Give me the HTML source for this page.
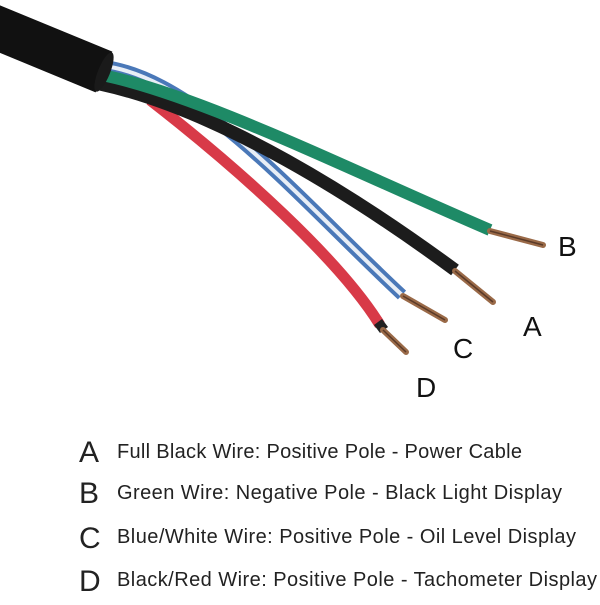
<!DOCTYPE html>
<html><head><style>
body{margin:0;background:#fff;width:600px;height:600px;overflow:hidden}
</style></head><body>
<svg width="600" height="600" viewBox="0 0 600 600" xmlns="http://www.w3.org/2000/svg" font-family="Liberation Sans, sans-serif">
<rect width="600" height="600" fill="#fff"/>
<!-- red wire -->
<path d="M150,100 C240,170 340,260 380,325" stroke="#d83a48" stroke-width="11" fill="none"/>
<path d="M378,322 L384,330" stroke="#222" stroke-width="10"/>
<!-- blue/white wire -->
<path d="M105,66 C200,80 300,200 402,295" stroke="#4a78b8" stroke-width="12" fill="none"/>
<path d="M105,66 C200,80 300,200 402,295" stroke="#e8eef6" stroke-width="4" fill="none"/>
<!-- black wire -->
<path d="M100,84 C220,110 360,200 455,270" stroke="#1c1c1c" stroke-width="13" fill="none"/>
<!-- green wire -->
<path d="M102,75 C200,95 350,170 490,230" stroke="#1e8a66" stroke-width="12" fill="none"/>
<!-- copper ends -->
<g stroke="#9a6a48" stroke-width="6" stroke-linecap="round">
<path d="M490,231 L543,245"/>
<path d="M455,271 L493,302"/>
<path d="M403,296 L445,320"/>
<path d="M383,330 L406,352"/>
</g>
<g stroke="#5a3a28" stroke-width="1.5">
<path d="M490,231 L543,245"/><path d="M455,271 L493,302"/><path d="M403,296 L445,320"/><path d="M383,330 L406,352"/>
</g>
<!-- jacket -->
<path d="M-10,25 L104,72" stroke="#111" stroke-width="44" fill="none"/>
<ellipse cx="104" cy="72" rx="6" ry="21" fill="#1a1a1a" transform="rotate(22 104 72)"/>
<g fill="#111" font-size="28">
<text x="558" y="256">B</text>
<text x="523" y="336">A</text>
<text x="453" y="358">C</text>
<text x="416" y="397">D</text>
</g>
<g fill="#222" font-size="30">
<text x="79" y="462">A</text>
<text x="79" y="503">B</text>
<text x="79" y="548">C</text>
<text x="79" y="591">D</text>
</g>
<g fill="#222" font-size="20">
<text x="117" y="458" textLength="405" lengthAdjust="spacing">Full Black Wire: Positive Pole - Power Cable</text>
<text x="117" y="499" textLength="445" lengthAdjust="spacing">Green Wire: Negative Pole - Black Light Display</text>
<text x="117" y="543" textLength="459" lengthAdjust="spacing">Blue/White Wire: Positive Pole - Oil Level Display</text>
<text x="117" y="586" textLength="480" lengthAdjust="spacing">Black/Red Wire: Positive Pole - Tachometer Display</text>
</g>
</svg>
</body></html>
